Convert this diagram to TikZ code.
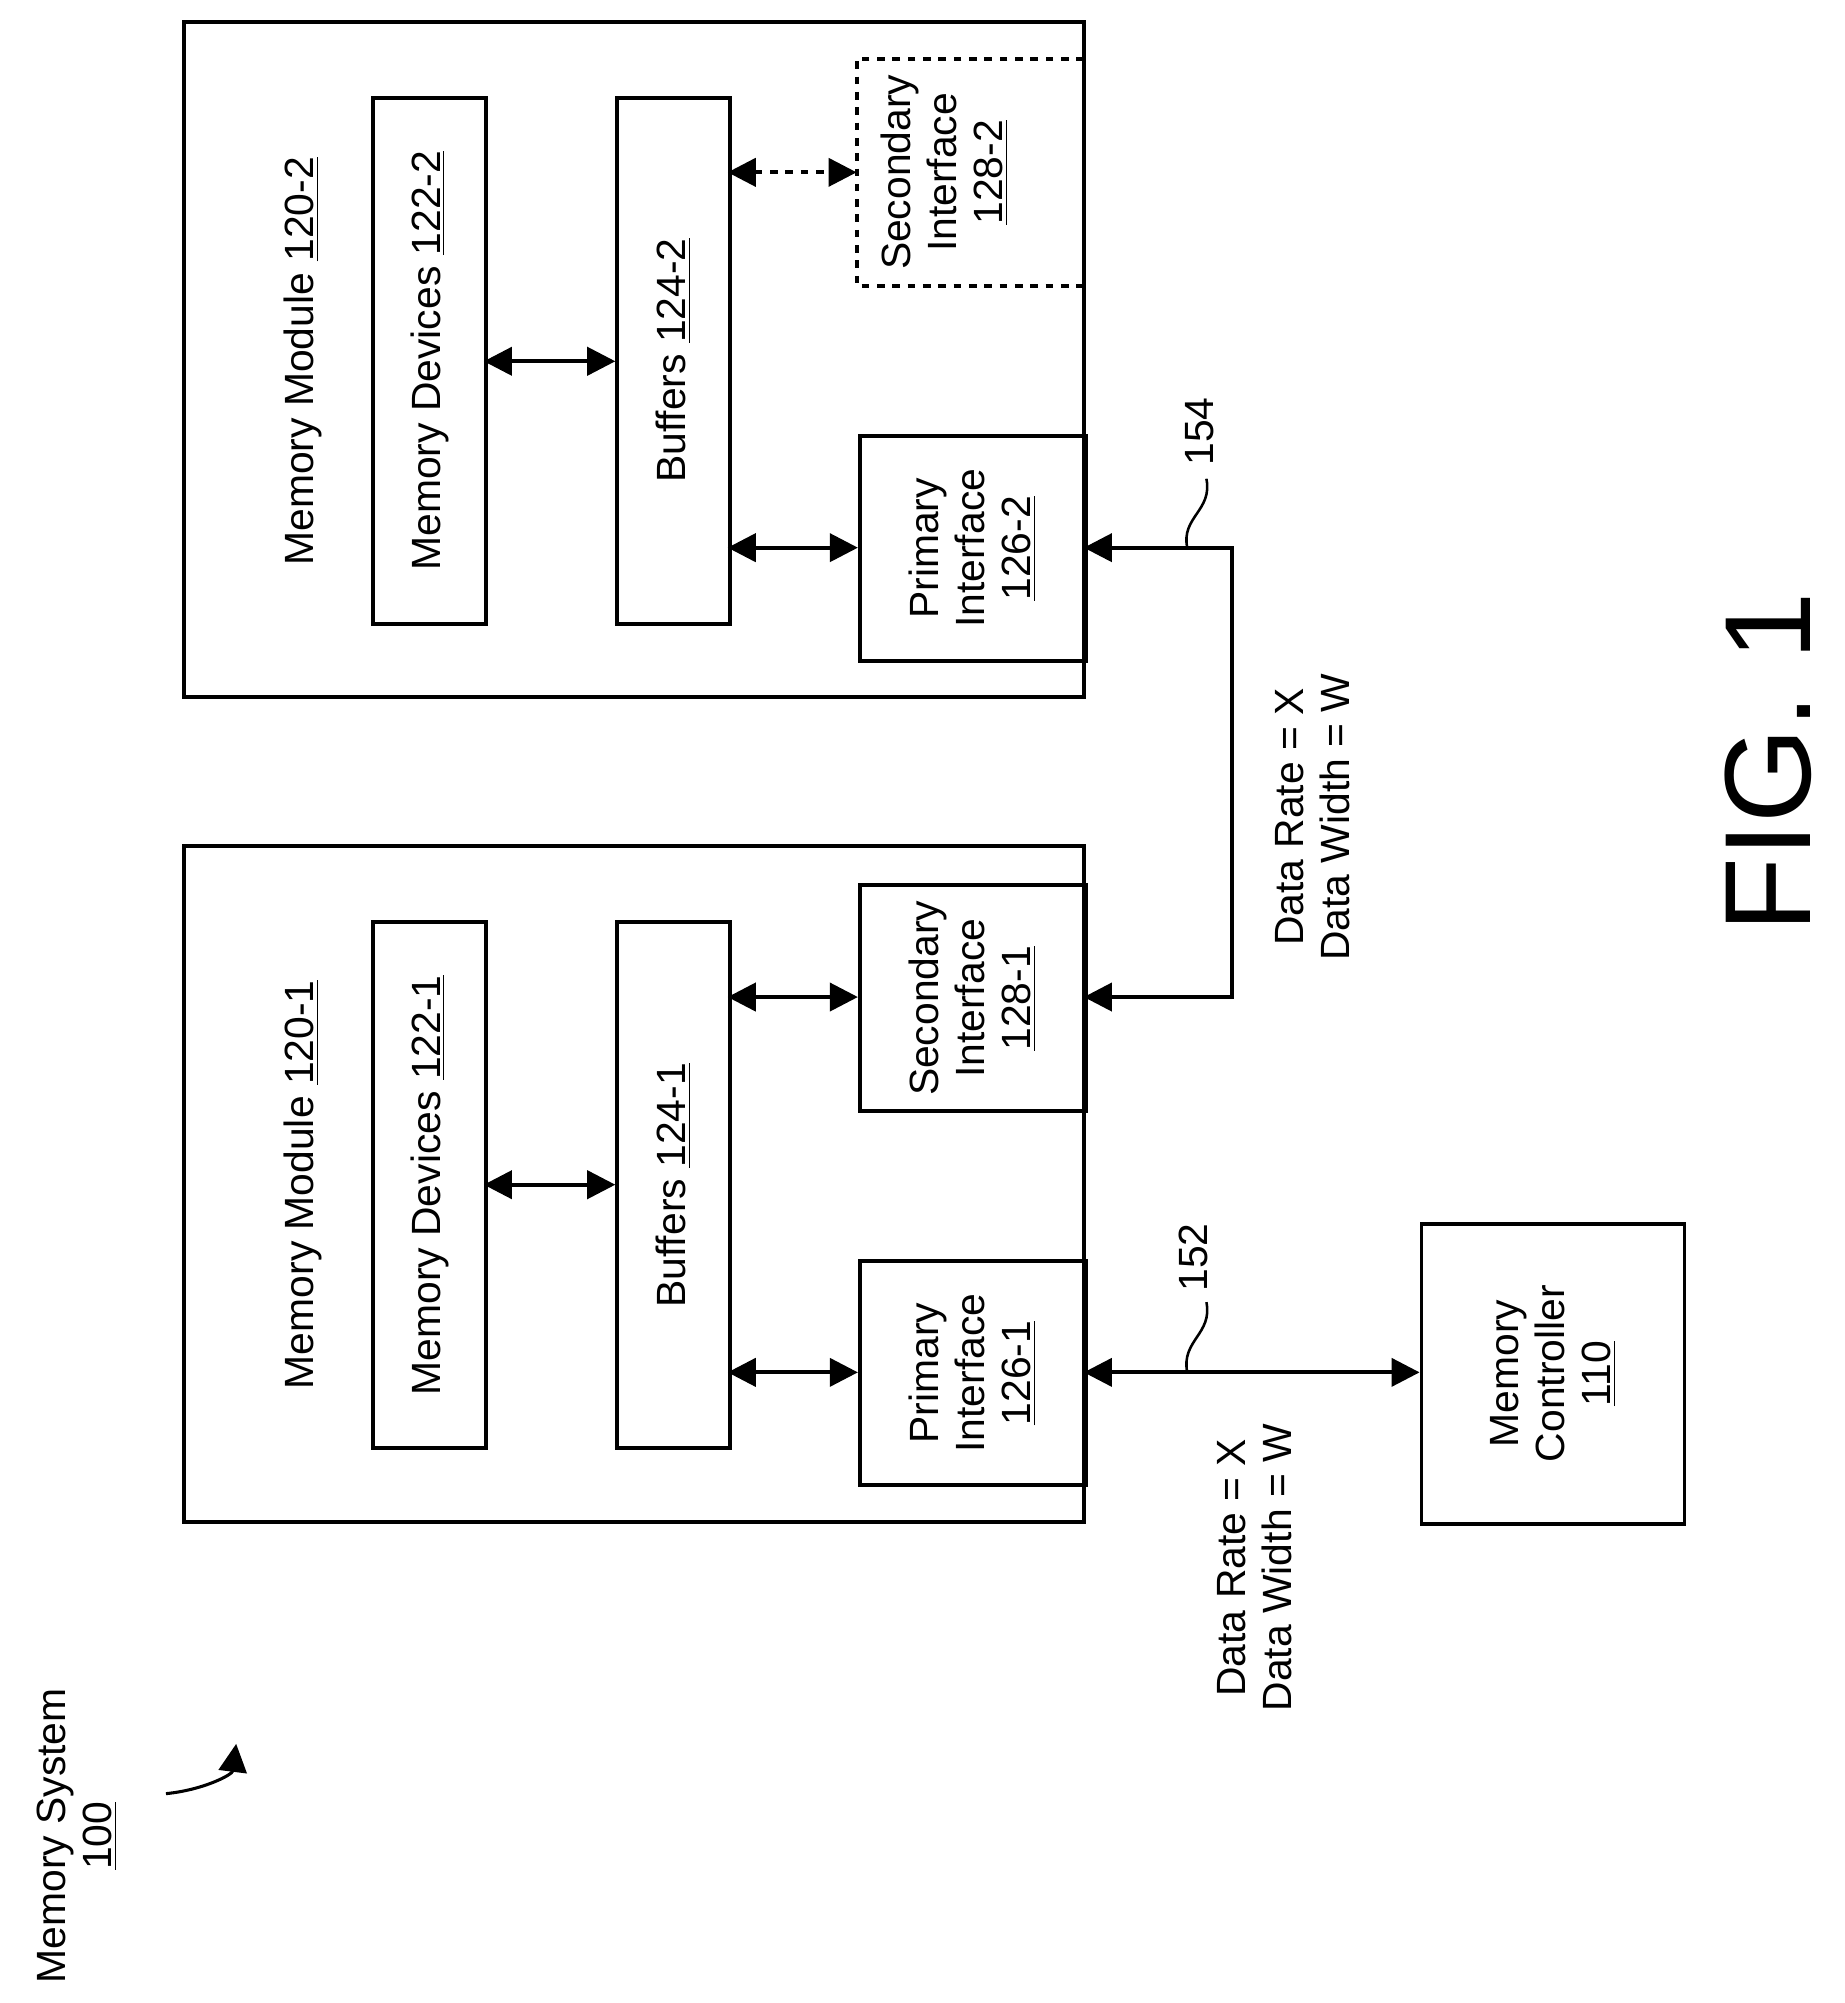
\documentclass[tikz,border=0pt]{standalone}
\usepackage{fontspec}
\setmainfont{Liberation Sans}
\usetikzlibrary{arrows.meta}
\begin{document}
\begin{tikzpicture}[x=0.5pt,y=-0.5pt,
  box/.style={draw,line width=1.5pt},
  lbl/.style={rotate=90,align=center,font=\fontsize{16}{18}\selectfont,inner sep=0pt},
  bi/.style={line width=1.5pt,{Triangle[length=11pt,width=11pt]}-{Triangle[length=11pt,width=11pt]}},
  sq/.style={line width=1pt}]
\useasboundingbox (0,0) rectangle (1445,1569);
% modules
\draw[box] (144,17) rectangle (849,546);
\draw[box] (144,663) rectangle (849,1192);
\node[lbl] (mm2) at (237,283) {Memory Module \underline{120-2}};
\node[lbl] (mm1) at (237,928) {Memory Module \underline{120-1}};
% module 2
\node[box,minimum width=44pt,minimum height=206pt,anchor=north west] (md2) at (291,75) {};
\node[lbl] at (md2) {Memory Devices \underline{122-2}};
\node[box,minimum width=44pt,minimum height=206pt,anchor=north west] (bf2) at (482,75) {};
\node[lbl] at (bf2) {Buffers \underline{124-2}};
\draw[line width=1.5pt,dashed] (849,46) -- (671,46) -- (671,224) -- (849,224);
\coordinate (s2) at (671,135);
\node[lbl] at (740,135) {Secondary\\Interface\\\underline{128-2}};
\node[box,minimum width=88.5pt,minimum height=88pt,anchor=north west] (p2) at (672,340) {};
\node[lbl] at (p2) {Primary\\Interface\\\underline{126-2}};
% module 1
\node[box,minimum width=44pt,minimum height=206pt,anchor=north west] (md1) at (291,721) {};
\node[lbl] at (md1) {Memory Devices \underline{122-1}};
\node[box,minimum width=44pt,minimum height=206pt,anchor=north west] (bf1) at (482,721) {};
\node[lbl] at (bf1) {Buffers \underline{124-1}};
\node[box,minimum width=88.5pt,minimum height=88.5pt,anchor=north west] (s1) at (672,692) {};
\node[lbl] at (s1) {Secondary\\Interface\\\underline{128-1}};
\node[box,minimum width=88.5pt,minimum height=88pt,anchor=north west] (p1) at (672,986) {};
\node[lbl] at (p1) {Primary\\Interface\\\underline{126-1}};
% controller
\node[box,minimum width=103pt,minimum height=117.5pt,anchor=north west] (mc) at (1112,957) {};
\node[lbl] at (mc) {Memory\\Controller\\\underline{110}};
% arrows module 2
\draw[bi] (379,283) -- (482,283);
\draw[bi] (570,429) -- (672,429);
\draw[bi,dashed] (570,135) -- (s2);
% module 1
\draw[bi] (379,928) -- (482,928);
\draw[bi] (570,1075) -- (672,1075);
\draw[bi] (570,781) -- (672,781);
% bus 154
\coordinate (c1) at (965,429);
\coordinate (c2) at (965,781);
\draw[bi] (849,429) -- (c1) -- (c2) -- (849,781);
\draw[sq] (930,429) .. controls (925,405) and (950,400) .. (945,375);
\node[lbl] (n154) at (940,338) {154};
\node[lbl,anchor=center] at (1028,640) {Data Rate = X\\Data Width = W};
% bus 152
\draw[bi] (849,1075) -- (1112,1075);
\draw[sq] (930,1075) .. controls (925,1050) and (950,1045) .. (945,1020);
\node[lbl] (n152) at (935,985) {152};
\node[lbl] at (983,1228) {Data Rate = X\\Data Width = W};
% fig
\node[rotate=90,font=\fontsize{48}{54}\selectfont,inner sep=0pt] (fig) at (1385,597) {FIG. 1};
% memory system
\node[lbl] (ms) at (60,1438) {Memory System\\\underline{100}};
\draw[line width=1.2pt,-{Triangle[length=11pt,width=11pt]}] (130,1405) .. controls (160,1402) and (182,1390) .. (185,1366);
\end{tikzpicture}
\end{document}
